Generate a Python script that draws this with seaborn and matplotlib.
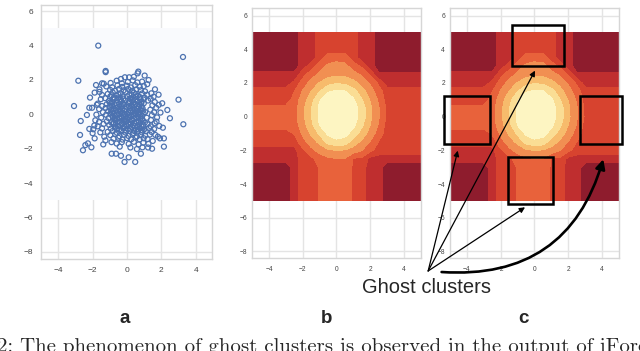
import numpy as np
import pandas as pd
import seaborn as sns
import matplotlib.pyplot as plt
from matplotlib.patches import Rectangle

# ---- panel a: points (x, y)
core_pts = [
    (-1.12, 1.18), (-0.83, 1.27), (-0.61, 1.09), (-0.37, 1.22), (-0.08, 1.31), (0.14, 1.12), (0.39, 1.26), (0.63, 1.07), (0.88, 1.21), (1.17, 1.14),
    (-1.27, 0.94), (-0.97, 1.03), (-0.72, 0.89), (-0.49, 0.98), (-0.21, 0.91), (0.03, 1.04), (0.27, 0.93), (0.52, 1.01), (0.79, 0.88), (1.02, 0.97),
    (-1.05, 0.77), (-0.86, 0.71), (-0.58, 0.83), (-0.33, 0.74), (-0.12, 0.81), (0.12, 0.69), (0.35, 0.84), (0.61, 0.76), (0.84, 0.72), (1.23, 0.80),
    (-1.18, 0.58), (-0.93, 0.62), (-0.69, 0.51), (-0.44, 0.60), (-0.19, 0.55), (0.06, 0.63), (0.29, 0.52), (0.47, 0.61), (0.72, 0.56), (0.98, 0.64),
    (-1.24, 0.37), (-1.01, 0.44), (-0.78, 0.33), (-0.52, 0.41), (-0.27, 0.31), (-0.02, 0.43), (0.21, 0.36), (0.44, 0.29), (0.69, 0.42), (0.91, 0.34),
    (-1.10, 0.18), (-0.88, 0.12), (-0.63, 0.23), (-0.39, 0.15), (-0.14, 0.21), (0.09, 0.11), (0.32, 0.24), (0.57, 0.16), (0.81, 0.22), (1.06, 0.13),
    (-1.21, -0.03), (-0.96, 0.04), (-0.71, -0.08), (-0.46, 0.01), (-0.23, -0.06), (0.02, 0.03), (0.24, -0.09), (0.49, 0.02), (0.74, -0.04), (0.97, 0.05),
    (-1.07, -0.22), (-0.82, -0.16), (-0.57, -0.27), (-0.31, -0.19), (-0.08, -0.29), (0.16, -0.17), (0.41, -0.24), (0.66, -0.15), (0.89, -0.28), (1.15, -0.20),
    (-1.17, -0.41), (-0.91, -0.47), (-0.66, -0.36), (-0.42, -0.45), (-0.17, -0.38), (0.07, -0.49), (0.30, -0.37), (0.55, -0.44), (0.80, -0.40), (1.04, -0.48),
    (-1.03, -0.62), (-0.79, -0.57), (-0.52, -0.68), (-0.28, -0.59), (-0.03, -0.66), (0.22, -0.56), (0.46, -0.69), (0.71, -0.60), (0.95, -0.65), (1.19, -0.58),
    (-0.94, -0.83), (-0.70, -0.77), (-0.45, -0.88), (-0.20, -0.79), (0.05, -0.86), (0.29, -0.76), (0.53, -0.90), (0.77, -0.81), (1.00, -0.87), (1.28, -0.79),
    (-1.12, -1.02), (-0.83, -0.97), (-0.58, -1.08), (-0.34, -0.99), (-0.09, -1.06), (0.15, -0.96), (0.38, -1.09), (0.63, -1.00), (0.87, -1.05), (1.09, -0.98),
    (-0.97, -1.21), (-0.69, -1.16), (-0.44, -1.27), (-0.16, -1.19), (0.09, -1.26), (0.33, -1.17), (0.58, -1.29), (0.81, -1.20), (1.06, -1.24), (1.33, -1.18),
    (-0.98, 1.42), (-0.70, 1.36), (-0.45, 1.48), (-0.20, 1.39), (0.07, 1.47), (0.31, 1.37), (0.55, 1.45), (0.80, 1.40), (1.05, 1.33),
    (-1.20, 1.62), (-0.86, 1.57), (-0.55, 1.68), (-0.28, 1.59), (0.00, 1.66), (0.22, 1.56), (0.48, 1.69), (0.74, 1.60), (0.98, 1.64),
    (-0.78, -1.41), (-0.50, -1.36), (-0.26, -1.47), (0.00, -1.38), (0.25, -1.45), (0.50, -1.35), (0.74, -1.46), (0.97, -1.39), (1.20, -1.44),
    (-0.90, 1.10), (-0.50, 1.16), (-0.25, 1.04), (0.27, 1.15), (0.52, 1.18), (0.75, 1.00), (-0.77, 0.97), (-0.36, 0.86), (0.18, 0.92), (0.47, 0.82), (0.96, 0.86),
    (-1.00, 0.68), (-0.62, 0.66), (-0.25, 0.64), (0.15, 0.77), (0.38, 0.68), (0.83, 0.63), (-0.86, 0.49), (-0.33, 0.47), (0.12, 0.47), (0.58, 0.48), (0.85, 0.46),
    (-0.92, 0.26), (-0.66, 0.37), (-0.40, 0.26), (-0.10, 0.32), (0.33, 0.43), (0.60, 0.33), (0.78, 0.27), (-0.75, 0.07), (-0.52, 0.16), (-0.28, 0.08), (0.20, 0.18),
    (0.44, 0.09), (0.70, 0.10), (0.92, 0.20), (-0.85, -0.09), (-0.59, -0.02), (-0.33, -0.12), (-0.11, 0.00), (0.13, -0.04), (0.37, -0.10), (0.62, 0.04), (0.86, -0.11),
    (-0.70, -0.25), (-0.45, -0.20), (-0.19, -0.24), (0.04, -0.16), (0.28, -0.30), (0.54, -0.21), (0.77, -0.25), (-0.80, -0.50), (-0.54, -0.42), (-0.30, -0.52),
    (-0.05, -0.41), (0.19, -0.46), (0.43, -0.52), (0.68, -0.46), (0.92, -0.37), (-0.66, -0.70), (-0.40, -0.64), (-0.15, -0.72), (0.10, -0.60), (0.35, -0.64),
    (0.60, -0.73), (0.84, -0.70), (-0.57, -0.86), (-0.32, -0.92), (-0.07, -0.95), (0.18, -0.84), (0.42, -0.97), (0.66, -0.88), (0.90, -0.94),
]
ring_pts = [
    (-1.60, 1.30), (-1.45, 1.12), (-1.52, 0.88), (-1.70, 0.62), (-1.45, 0.48), (-1.62, 0.30), (-1.40, 0.12), (-1.78, -0.02), (-1.50, -0.20), (-1.62, -0.44),
    (-1.36, -0.56), (-1.70, -0.70), (-1.45, -0.82), (-1.55, -1.05), (-1.32, -1.30), (-1.25, -1.52),
    (1.42, 1.22), (1.55, 1.02), (1.38, 0.90), (1.62, 0.71), (1.48, 0.52), (1.70, 0.38), (1.36, 0.27), (1.58, 0.12), (1.45, -0.05), (1.75, -0.18),
    (1.40, -0.33), (1.62, -0.52), (1.38, -0.70), (1.58, -0.86), (1.44, -1.03), (1.65, -1.20), (1.50, -1.55),
    (-0.95, 1.82), (-0.60, 1.95), (-0.30, 1.80), (0.05, 1.88), (0.34, 1.97), (0.60, 1.85), (0.88, 1.90), (1.18, 1.75), (-1.35, 1.78),
    (-0.90, -1.62), (-0.60, -1.70), (-0.30, -1.62), (0.10, -1.72), (0.40, -1.60), (0.68, -1.75), (0.95, -1.65), (1.25, -1.72),
    (-0.42, -1.88), (0.20, -1.93), (0.58, -2.02), (0.90, -1.92),
]
outer_pts = [
    (-1.67, 3.99), (3.26, 3.33), (-2.83, 1.95), (-1.24, 2.52), (-1.24, 2.45), (0.62, 2.38), (0.66, 2.48), (1.03, 2.25), (-0.35, 2.05), (-0.12, 2.15),
    (0.13, 2.15), (0.40, 2.18), (1.26, 1.99), (1.63, 1.45), (-1.45, 1.80), (-1.80, 1.70), (-1.88, 1.26), (-2.15, 0.97), (-2.03, 0.38), (-2.19, 0.38),
    (-2.33, -0.04), (-3.08, 0.48), (-2.69, -0.39), (-2.19, -0.85), (-1.96, -0.87), (-2.00, -1.10), (-2.73, -1.20), (-1.88, -1.40), (-2.07, -1.92), (-2.27, -1.69),
    (-2.42, -1.79), (-2.56, -2.09), (-1.38, -1.75), (-0.89, -2.29), (-0.64, -2.29), (-0.35, -2.41), (-0.14, -2.77), (0.10, -2.50), (0.48, -2.77), (0.81, -2.29),
    (1.23, -1.93), (1.46, -2.00), (2.15, -1.88), (1.80, -1.30), (1.92, -1.40), (2.15, -1.40), (2.09, -0.78), (1.88, -0.68), (1.72, -0.43), (2.50, -0.23),
    (3.28, -0.58), (2.35, 0.25), (3.00, 0.85), (2.05, 0.64), (1.84, 1.14), (1.85, 0.55), (1.95, 0.10), (-1.84, -0.35), (-1.90, -0.65), (-1.75, 0.55), (-1.60, 1.45),
]

# ---- panels b and c: score read on a 0.5 grid (0 = darkest band, 7 = palest)
grid_x = [-5, -4.5, -4, -3.5, -3, -2.5, -2, -1.5, -1, -0.5, 0, 0.5, 1, 1.5, 2, 2.5, 3, 3.5, 4, 4.5, 5]
grid_y = [5, 4.5, 4, 3.5, 3, 2.5, 2, 1.5, 1, 0.5, 0, -0.5, -1, -1.5, -2, -2.5, -3, -3.5, -4, -4.5, -5]
score_levels = [
    [0, 0, 0, 0, 0, 0, 1, 1, 2, 2, 2, 2, 2, 1, 1, 0, 0, 0, 0, 0, 0],
    [0, 0, 0, 0, 0, 0, 1, 1, 2, 2, 2, 2, 2, 1, 1, 0, 0, 0, 0, 0, 0],
    [0, 0, 0, 0, 0, 0, 1, 1, 2, 2, 2, 2, 2, 1, 1, 0, 0, 0, 0, 0, 0],
    [0, 0, 0, 0, 0, 0, 1, 1, 2, 2.9, 3.1, 3.0, 2, 1, 1, 0, 0, 0, 0, 0, 0],
    [0, 0, 0, 0, 0, 0, 1, 2, 3.1, 3.7, 3.9, 3.8, 3.0, 2.3, 1, 0, 0, 0, 0, 0, 0],
    [0.8, 0.8, 0.8, 0.8, 0.8, 0.8, 2.12, 3.05, 3.7, 4.11, 4.29, 4.22, 3.89, 3.34, 2.3, 0.7, 0.7, 0.7, 0.7, 0.7, 0.7],
    [1, 1, 1, 1, 1, 1.75, 2.96, 3.85, 4.56, 5.13, 5.39, 5.28, 4.82, 4.15, 3.35, 2.31, 1, 1, 1, 1, 1],
    [2, 2, 2, 2, 2, 2.48, 3.59, 4.53, 5.46, 6.42, 6.63, 6.56, 5.89, 4.93, 3.98, 2.94, 2, 2, 2, 2, 2],
    [2, 2, 2, 2, 2, 2.88, 4.0, 5.1, 6.44, 6.91, 7.15, 7.04, 6.66, 5.57, 4.42, 3.36, 2.03, 2, 2, 2, 2],
    [2.8, 2.8, 2.8, 2.8, 2.8, 3.09, 4.24, 5.45, 6.69, 7.24, 7.67, 7.44, 6.92, 6.08, 4.7, 3.58, 2.29, 2, 2, 2, 2],
    [3, 3, 3, 3, 3, 3.11, 4.26, 5.48, 6.71, 7.28, 7.76, 7.49, 6.94, 6.13, 4.73, 3.6, 2.32, 2, 2, 2, 2],
    [3, 3, 3, 3, 3, 3, 4.07, 5.19, 6.53, 6.99, 7.25, 7.13, 6.73, 5.7, 4.49, 3.42, 2.1, 2, 2, 2, 2],
    [2, 2, 2, 2, 2, 2.58, 3.69, 4.66, 5.67, 6.7, 6.9, 6.8, 6.12, 5.06, 4.08, 3.04, 2, 2, 2, 2, 2],
    [2, 2, 2, 2, 2, 2, 3.1, 4.0, 4.75, 5.9, 6.3, 6.1, 5.02, 4.3, 3.45, 2.48, 2, 2, 2, 2, 2],
    [1, 1, 1, 1, 1, 1.18, 2.33, 3.22, 3.87, 4.3, 4.5, 4.41, 4.07, 3.52, 2.73, 2.09, 2, 2, 2, 2, 2],
    [1, 1, 1, 1, 1, 1, 2, 2.25, 2.91, 3.32, 3.45, 3.42, 2.4, 2.3, 1.2, 1, 1, 1, 1, 1, 1],
    [0, 0, 0, 0, 0, 1, 2, 2, 2.6, 3, 3, 3, 2.4, 2, 1, 1, 0, 0, 0, 0, 0],
    [0, 0, 0, 0, 0, 1, 2, 2, 2.6, 3, 3, 3, 2.4, 2, 1, 1, 0, 0, 0, 0, 0],
    [0, 0, 0, 0, 0, 1, 2, 2, 2.6, 3, 3, 3, 2.4, 2, 1, 1, 0, 0, 0, 0, 0],
    [0, 0, 0, 0, 0, 1, 2, 2, 2.6, 3, 3, 3, 2.4, 2, 1, 1, 0, 0, 0, 0, 0],
    [0, 0, 0, 0, 0, 1, 2, 2, 2.6, 3, 3, 3, 2.4, 2, 1, 1, 0, 0, 0, 0, 0],
]
level_bounds = [-0.5, 0.5, 1.5, 2.5, 3.5, 4.5, 5.5, 6.5, 9]
level_colors = ['#8E1C2D', '#BF2E2F', '#D7432F', '#E8623B', '#F18F52', '#F7BB6C', '#FADD94', '#FDF5C2']

# ghost cluster boxes in panel c (x0, y0, w, h) and arrow tips
ghost_boxes = [(-1.35, 3.01, 3.10, 2.43), (-5.34, -1.64, 2.71, 2.87),
               (2.69, -1.62, 2.47, 2.87), (-1.59, -5.20, 2.70, 2.83)]
arrow_tip_x = [-4.54, 0.03, -0.56]
arrow_tip_y = [-2.02, 2.73, -5.38]
curved_tip = (4.07, -2.53)

xticks = [-4, -2, 0, 2, 4]
yticks = [-8, -6, -4, -2, 0, 2, 4, 6]

sns.set_theme(style='whitegrid')
plt.rcParams['font.family'] = ['Liberation Sans', 'DejaVu Sans']

fig = plt.figure(figsize=(6.4, 3.51), dpi=100)
ax_a = fig.add_axes([0.0641, 0.2621, 0.2672, 0.7236])
ax_b = fig.add_axes([0.3942, 0.2650, 0.2631, 0.7128])
ax_c = fig.add_axes([0.7031, 0.2650, 0.2641, 0.7128])

# a
pts = pd.DataFrame(core_pts + ring_pts + outer_pts, columns=['x', 'y'])
ax_a.fill_between([-5, 5], -5, 5, color='#F9FAFD', lw=0, zorder=1)
sns.scatterplot(data=pts, x='x', y='y', ax=ax_a, marker='o', s=13,
                facecolors='none', edgecolor='#4C72B0', linewidth=0.9, zorder=2)
ax_a.set_xlim(-5, 4.95)
ax_a.set_ylim(-8.41, 6.35)

# b, c
gx, gy = np.meshgrid(grid_x, grid_y)
z = np.array(score_levels)
for ax in (ax_b, ax_c):
    ax.contourf(gx, gy, z, levels=level_bounds, colors=level_colors, zorder=1)
    ax.set_xlim(-5, 5)
    ax.set_ylim(-8.39, 6.46)

for ax, size, ypad in ((ax_a, 6, 5.5), (ax_b, 4.8, 3.6), (ax_c, 4.8, 3.6)):
    ax.set_xticks(xticks)
    ax.set_yticks(yticks)
    ax.set_xlabel('')
    ax.set_ylabel('')
    ax.grid(True, color='#E4E4E4', lw=1.0)
    ax.tick_params(axis='both', length=0, labelsize=size, colors='#444444')
    ax.tick_params(axis='x', pad=6)
    ax.tick_params(axis='y', pad=ypad)
    for sp in ax.spines.values():
        sp.set_color('#D6D6D6')
        sp.set_linewidth(1.0)

for x0, y0, w, h in ghost_boxes:
    ax_c.add_patch(Rectangle((x0, y0), w, h, fill=False, ec='black', lw=1.8,
                             zorder=5, clip_on=False))

for tx, ty in zip(arrow_tip_x, arrow_tip_y):
    ax_c.annotate('', xy=(tx, ty), xycoords='data', xytext=(0.669, 0.228),
                  textcoords='figure fraction', annotation_clip=False,
                  arrowprops=dict(arrowstyle='-|>', color='black', lw=0.9,
                                  mutation_scale=8, shrinkA=0, shrinkB=0))
ax_c.annotate('', xy=curved_tip, xycoords='data', xytext=(0.690, 0.225),
              textcoords='figure fraction', annotation_clip=False,
              arrowprops=dict(arrowstyle='-|>', color='black', lw=1.9,
                              mutation_scale=14, shrinkA=0, shrinkB=0,
                              connectionstyle='arc3,rad=0.4'))

fig.text(0.6664, 0.1661, 'Ghost clusters', ha='center', va='baseline', fontsize=14.5)
for label, fx in (('a', 0.1953), ('b', 0.5094), ('c', 0.8180)):
    fig.text(fx, 0.0789, label, ha='center', va='baseline', fontsize=13.5, fontweight='bold')
fig.text(-0.004, -0.002, '2: The phenomenon of ghost clusters is observed in the output of iForest',
         ha='left', va='baseline', fontsize=15, family='cmr10')

fig.savefig('out.png', dpi=100)
